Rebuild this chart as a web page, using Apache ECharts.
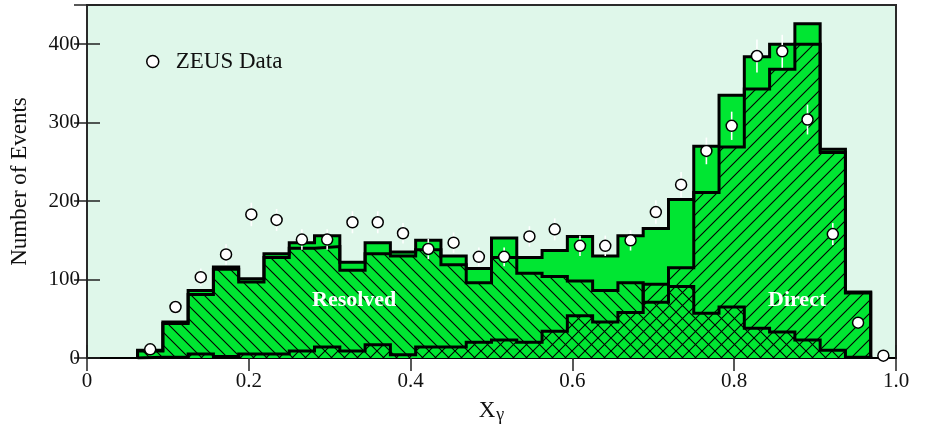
<!DOCTYPE html>
<html><head><meta charset="utf-8">
<script src="https://cdn.jsdelivr.net/npm/echarts@6/dist/echarts.min.js"></script>
<style>html,body{margin:0;padding:0;background:#fff}#c{width:931px;height:430px}</style>
</head><body><div id="c"></div>
<script>
// Histogram bin edges (x_gamma)
const binEdges = [0.0625, 0.09375, 0.125, 0.15625, 0.1875, 0.21875, 0.25, 0.28125, 0.3125, 0.34375,
  0.375, 0.40625, 0.4375, 0.46875, 0.5, 0.53125, 0.5625, 0.59375, 0.625, 0.65625,
  0.6875, 0.71875, 0.75, 0.78125, 0.8125, 0.84375, 0.875, 0.90625, 0.9375, 0.96875];
// Monte Carlo histograms (one value per bin)
const totalMC = [10, 46, 86, 116, 101, 133, 147, 156, 122, 147, 135, 150, 130, 114, 153, 128, 137, 155, 130, 156,
  165, 202, 270, 335, 384, 400, 426, 266, 84];
const resolvedMC = [9, 44, 81, 113, 97, 128, 140, 142, 112, 133, 130, 138, 119, 96, 128, 108, 104, 98, 86, 96,
  71, 91, 57, 65, 38, 33, 23, 10, 1];
const directMC = [1, 1, 5, 2, 5, 5, 9, 14, 9, 17, 4, 14, 14, 20, 23, 20, 34, 54, 46, 58,
  94, 115, 211, 269, 343, 368, 400, 262, 83];
// ZEUS data points
const dataX = [0.078125, 0.109375, 0.140625, 0.171875, 0.203125, 0.234375, 0.265625, 0.296875, 0.328125, 0.359375,
  0.390625, 0.421875, 0.453125, 0.484375, 0.515625, 0.546875, 0.578125, 0.609375, 0.640625, 0.671875,
  0.703125, 0.734375, 0.765625, 0.796875, 0.828125, 0.859375, 0.890625, 0.921875, 0.953125, 0.984375];
const dataY = [11, 65, 103, 132, 183, 176, 151, 151, 173, 173, 159, 139, 147, 129, 129, 155, 164, 143, 143, 150,
  186, 221, 264, 296, 385, 391, 304, 158, 45, 3];
const dataErr = [4, 9, 11, 13, 15, 14, 13, 13, 14, 14, 13, 13, 13, 12, 12, 13, 14, 13, 13, 13,
  15, 16, 17, 18, 21, 21, 19, 14, 7, 2];
const xTicks = [0, 0.2, 0.4, 0.6, 0.8, 1.0];
const yTicks = [0, 100, 200, 300, 400];

const SERIF = '"Liberation Serif", "DejaVu Serif", serif';

function hatch(dir) {
  const s = 13;
  const c = document.createElement('canvas');
  c.width = s; c.height = s;
  const g = c.getContext('2d');
  g.strokeStyle = '#000'; g.lineWidth = 1.1;
  g.beginPath();
  if (dir === 'back') {
    g.moveTo(-2, -2); g.lineTo(s + 2, s + 2);
    g.moveTo(-2, s - 2); g.lineTo(2, s + 2);
    g.moveTo(s - 2, -2); g.lineTo(s + 2, 2);
  } else {
    g.moveTo(-2, s + 2); g.lineTo(s + 2, -2);
    g.moveTo(-2, 2); g.lineTo(2, -2);
    g.moveTo(s - 2, s + 2); g.lineTo(s + 2, s - 2);
  }
  g.stroke();
  return c;
}

function stepData(edges, vals) {
  const pts = [[edges[0], 0]];
  for (let i = 0; i < vals.length; i++) pts.push([edges[i], vals[i]]);
  pts.push([edges[vals.length], vals[vals.length - 1]]);
  pts.push([edges[vals.length], 0]);
  return pts;
}

function histSeries(name, vals, fill, z) {
  return {
    name: name, type: 'line', step: 'end', data: stepData(binEdges, vals),
    symbol: 'none', z: z, silent: true,
    lineStyle: { color: '#000', width: 3, join: 'miter' },
    areaStyle: { color: fill, opacity: 1 },
    emphasis: { disabled: true }
  };
}

const chart = echarts.init(document.getElementById('c'), null, { renderer: 'canvas' });
const tickStyle = { show: true, inside: true, length: 13, lineStyle: { color: '#222', width: 1.5 } };
chart.setOption({
  animation: false,
  backgroundColor: '#fff',
  grid: { left: 87, right: 35, top: 5, bottom: 72, show: true, backgroundColor: '#dff7ea', borderColor: '#2a2a2a', borderWidth: 2 },
  legend: {
    data: ['ZEUS Data'], left: 146, top: 50, icon: 'circle', itemWidth: 12, itemHeight: 12, padding: 0,
    itemStyle: { color: '#fff', borderColor: '#000', borderWidth: 1.5 },
    textStyle: { fontFamily: SERIF, fontSize: 23, color: '#111', padding: [0, 0, 0, 12] }
  },
  xAxis: [{
    type: 'value', min: 0, max: 1, interval: 0.2, position: 'bottom',
    axisLine: { show: true, lineStyle: { color: '#000', width: 2 } },
    axisTick: tickStyle, splitLine: { show: false },
    axisLabel: { fontFamily: SERIF, fontSize: 21, color: '#111', margin: 13,
      formatter: v => { const t = xTicks.find(a => Math.abs(a - v) < 1e-6); return t === undefined ? '' : (t === 0 ? '0' : t.toFixed(1)); } },
    name: '{x|X}{g|γ}', nameLocation: 'middle', nameGap: 39,
    nameTextStyle: { rich: { x: { fontFamily: SERIF, fontSize: 23, color: '#111', lineHeight: 24 },
      g: { fontFamily: SERIF, fontSize: 18, color: '#111', padding: [9, 0, 0, 1] } } }
  }, {
    type: 'value', min: 0, max: 1, interval: 0.2, position: 'top',
    axisLine: { show: false }, axisTick: tickStyle, axisLabel: { show: false }, splitLine: { show: false }
  }],
  yAxis: [{
    type: 'value', min: 0, max: 450, interval: 100, position: 'left',
    axisLine: { show: false }, axisTick: tickStyle, splitLine: { show: false },
    axisLabel: { fontFamily: SERIF, fontSize: 21, color: '#111', margin: 7,
      formatter: v => yTicks.indexOf(v) >= 0 ? String(v) : '' },
    name: 'Number of Events', nameLocation: 'middle', nameGap: 56, nameRotate: 90,
    nameTextStyle: { fontFamily: SERIF, fontSize: 23, color: '#111' }
  }, {
    type: 'value', min: 0, max: 450, interval: 100, position: 'right',
    axisLine: { show: false }, axisTick: tickStyle, axisLabel: { show: false }, splitLine: { show: false }
  }],
  series: [
    histSeries('Total', totalMC, '#00e632', 2),
    histSeries('Resolved', resolvedMC, { image: hatch('back'), repeat: 'repeat' }, 3),
    histSeries('Direct', directMC, { image: hatch('fwd'), repeat: 'repeat' }, 4),
    {
      type: 'custom', z: 5, silent: true, clip: false,
      data: dataX.map((x, i) => [x, dataY[i], dataErr[i]]),
      renderItem: function (params, api) {
        const x = api.value(0), y = api.value(1), e = api.value(2);
        const p1 = api.coord([x, y - e]), p2 = api.coord([x, y + e]);
        return { type: 'line', shape: { x1: p1[0], y1: p1[1], x2: p2[0], y2: p2[1] },
          style: { stroke: '#fff', lineWidth: 1.6 } };
      }
    },
    {
      name: 'ZEUS Data', type: 'scatter', z: 6, clip: false, silent: true,
      data: dataX.map((x, i) => [x, dataY[i]]),
      symbol: 'circle', symbolSize: 11,
      itemStyle: { color: '#fff', borderColor: '#000', borderWidth: 1.5, opacity: 1 }
    }
  ],
  graphic: [
    { type: 'text', left: 312, top: 289, z: 100, style: { text: 'Resolved', fill: '#fff', font: 'bold 22px ' + SERIF } },
    { type: 'text', left: 768, top: 289, z: 100, style: { text: 'Direct', fill: '#fff', font: 'bold 22px ' + SERIF } }
  ]
});
</script></body></html>
